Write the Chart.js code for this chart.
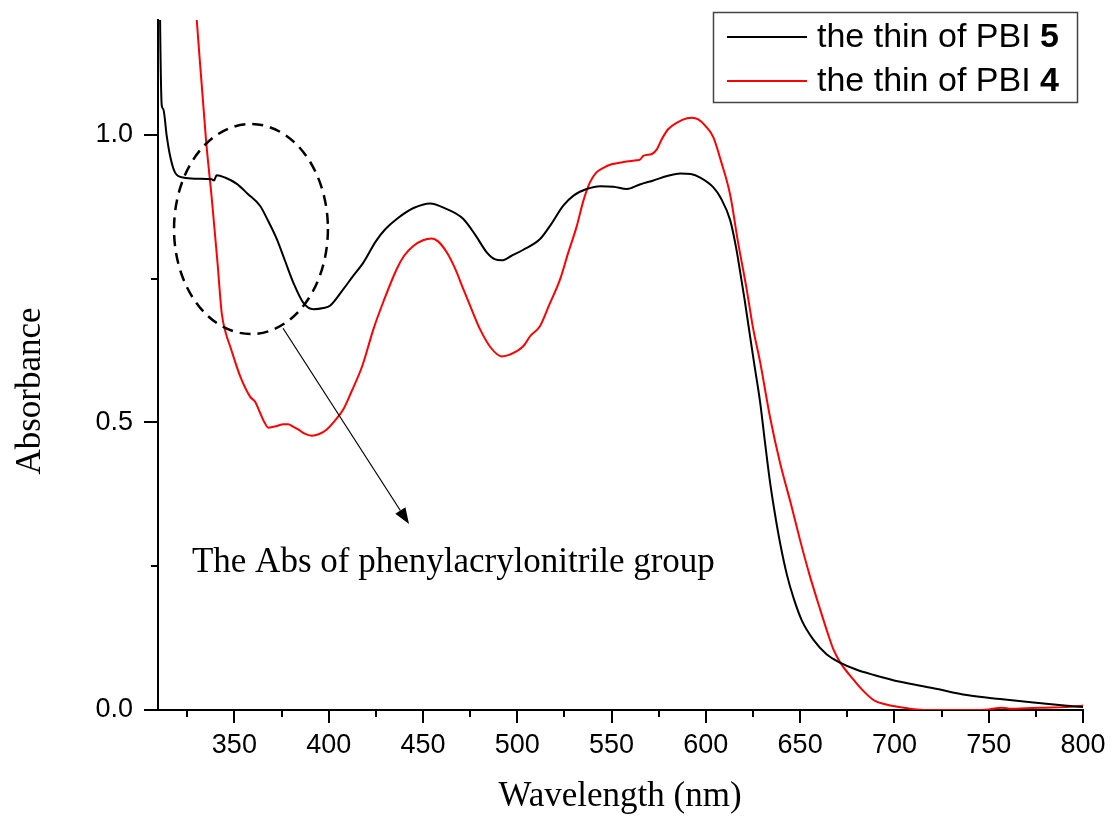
<!DOCTYPE html>
<html><head><meta charset="utf-8">
<script src="https://cdn.jsdelivr.net/npm/chart.js@4.4.1/dist/chart.umd.min.js"></script>
<style>html,body{margin:0;padding:0;background:#fff;overflow:hidden}</style>
</head><body>
<canvas id="c" width="1113" height="823"></canvas>
<script>
// ---- data ----
const wavelengthPBI5 = [309.6,310.6,311.5,312.3,314.1,315.9,318.5,322.9,330,337.9,339.2,340.6,345,351.3,357,363.6,368,372.5,377,381.3,386.6,391.9,397.2,400.7,407.8,413,418.4,425,430,436.1,445,453.8,462,471.4,478,483.8,488,491.8,497,503,512.1,518,524.4,530,536.8,544,551,558.1,565,572.2,580,586.4,592,597,604,608,612.9,616,618.2,620.5,623.5,626,628.8,631.5,634.1,636.7,639.4,643,646.5,651,657.1,664,671.4,680,689.1,703.1,720.7,738.4,756,773.7,790,800];
const absPBI5 = [1.60,1.20,1.051,1.045,0.999,0.964,0.935,0.926,0.924,0.923,0.921,0.930,0.926,0.915,0.898,0.877,0.850,0.819,0.780,0.743,0.708,0.697,0.699,0.703,0.732,0.755,0.778,0.815,0.836,0.854,0.873,0.881,0.872,0.854,0.825,0.796,0.784,0.782,0.790,0.800,0.819,0.845,0.877,0.895,0.906,0.911,0.910,0.906,0.914,0.921,0.929,0.933,0.932,0.926,0.909,0.890,0.852,0.805,0.762,0.715,0.649,0.595,0.535,0.462,0.395,0.340,0.290,0.235,0.195,0.155,0.122,0.097,0.082,0.070,0.061,0.049,0.038,0.026,0.019,0.013,0.008,0.005];

const wavelengthPBI4 = [326,330,335,338,341,343.3,345.5,347.7,353,358.3,361,363.6,366,368,370,372.5,376,378.6,381,383.9,387,391,395,399,403,407.8,412,418,423.7,429,436.1,440,444.9,450,454.7,458,462.6,467,471.4,476,480.3,486,491.8,496,503.3,506.8,512.1,517,522.7,527,531.6,535,538.6,542,545.7,550,556.3,563.4,565,567,571.4,574,576.7,580,585,590,592.6,596,600,604,608,612.9,617,621.8,625,628.8,634,639.4,645,650,655,660.6,665,667.7,671.4,678.5,683,689.1,695,703.1,711.9,720,740,750,757,762,770,780,790,798.5,800];
const absPBI4 = [1.37,1.202,0.99,0.89,0.78,0.69,0.655,0.633,0.581,0.545,0.536,0.517,0.500,0.491,0.492,0.494,0.497,0.497,0.493,0.488,0.481,0.477,0.480,0.488,0.502,0.523,0.553,0.600,0.662,0.710,0.767,0.790,0.807,0.817,0.820,0.815,0.796,0.768,0.732,0.695,0.662,0.630,0.615,0.618,0.633,0.650,0.668,0.705,0.749,0.795,0.842,0.885,0.918,0.935,0.943,0.949,0.953,0.956,0.957,0.964,0.967,0.975,0.993,1.010,1.022,1.029,1.030,1.027,1.015,0.996,0.955,0.896,0.815,0.729,0.665,0.605,0.510,0.429,0.360,0.295,0.235,0.175,0.130,0.105,0.082,0.052,0.035,0.017,0.010,0.005,0.001,0.000,0.000,0.001,0.004,0.002,0.003,0.004,0.005,0.007,0.008];

const seriesNames = ['the thin of PBI ', 'the thin of PBI '];
const seriesNumbers = ['5', '4'];
const seriesColors = ['#000000', '#ff0000'];

const xMajorTicks = [350,400,450,500,550,600,650,700,750,800];
const xMinorTicks = [325,375,425,475,525,575,625,675,725,775];
const yMajorTicks = [0, 0.5, 1.0];
const yMinorTicks = [0.25, 0.75];
const xRange = [309.5, 800];
const yRange = [0, 1.2];

const xTitle = 'Wavelength (nm)';
const yTitle = 'Absorbance';
const noteText = 'The Abs of phenylacrylonitrile group';
// annotation geometry in data units
const ellipseCenter = [358.8, 0.8365];
const ellipseRadii = [40.8, 0.1826];
const arrowFrom = [375.8, 0.664];
const arrowTo = [442.6, 0.3235];
const notePos = [327.5, 0.24];

const SANS = '"Liberation Sans", Arial, sans-serif';
const SERIF = '"Liberation Serif", "Times New Roman", serif';

function pts(xs, ys){ return xs.map((x,i)=>({x:x, y:ys[i]})); }
function noPad(s){ s.paddingLeft = 0; s.paddingRight = 0; s.paddingTop = 0; s.paddingBottom = 0; }

const decor = {
  id: 'decor',
  afterDraw(chart){
    const ctx = chart.ctx, xs = chart.scales.x, ys = chart.scales.y, ca = chart.chartArea;
    ctx.save();
    // ticks
    ctx.strokeStyle = '#000'; ctx.lineWidth = 2; ctx.lineCap = 'butt';
    const xt = (v,len)=>{ const px = Math.round(xs.getPixelForValue(v)); ctx.beginPath(); ctx.moveTo(px, ca.bottom); ctx.lineTo(px, ca.bottom+len); ctx.stroke(); };
    const yt = (v,len)=>{ const py = Math.round(ys.getPixelForValue(v)); ctx.beginPath(); ctx.moveTo(ca.left, py); ctx.lineTo(ca.left-len, py); ctx.stroke(); };
    xMajorTicks.forEach(v=>xt(v,13)); xMinorTicks.forEach(v=>xt(v,7));
    yMajorTicks.forEach(v=>yt(v,14)); yMinorTicks.forEach(v=>yt(v,7));

    // ellipse
    const cx = xs.getPixelForValue(ellipseCenter[0]), cy = ys.getPixelForValue(ellipseCenter[1]);
    const rx = xs.getPixelForValue(ellipseCenter[0]+ellipseRadii[0]) - cx;
    const ry = cy - ys.getPixelForValue(ellipseCenter[1]+ellipseRadii[1]);
    ctx.setLineDash([11,7]); ctx.lineWidth = 2.5;
    ctx.beginPath(); ctx.ellipse(cx, cy, rx, ry, 0, 0, Math.PI*2); ctx.stroke();
    ctx.setLineDash([]);

    // arrow
    const ax0 = xs.getPixelForValue(arrowFrom[0]), ay0 = ys.getPixelForValue(arrowFrom[1]);
    const ax1 = xs.getPixelForValue(arrowTo[0]), ay1 = ys.getPixelForValue(arrowTo[1]);
    const ang = Math.atan2(ay1-ay0, ax1-ax0), hl = 16, hw = 6;
    ctx.lineWidth = 1.2;
    ctx.beginPath(); ctx.moveTo(ax0, ay0); ctx.lineTo(ax1 - hl*Math.cos(ang), ay1 - hl*Math.sin(ang)); ctx.stroke();
    ctx.fillStyle = '#000';
    ctx.beginPath();
    ctx.moveTo(ax1, ay1);
    ctx.lineTo(ax1 - hl*Math.cos(ang) + hw*Math.sin(ang), ay1 - hl*Math.sin(ang) - hw*Math.cos(ang));
    ctx.lineTo(ax1 - hl*Math.cos(ang) - hw*Math.sin(ang), ay1 - hl*Math.sin(ang) + hw*Math.cos(ang));
    ctx.closePath(); ctx.fill();

    // note text
    ctx.font = '35px ' + SERIF; ctx.textAlign = 'left'; ctx.textBaseline = 'alphabetic';
    ctx.fillText(noteText, xs.getPixelForValue(notePos[0]), ys.getPixelForValue(notePos[1]));

    // axis titles
    ctx.textAlign = 'center'; ctx.textBaseline = 'middle';
    ctx.fillText(xTitle, 620, 797);
    ctx.save(); ctx.translate(31, 391); ctx.rotate(-Math.PI/2); ctx.fillText(yTitle, 0, 0); ctx.restore();

    // legend
    ctx.strokeStyle = '#444'; ctx.lineWidth = 1.5;
    ctx.strokeRect(713.5, 12.5, 364, 90);
    const rows = [37, 81];
    rows.forEach((ry2, i)=>{
      ctx.strokeStyle = seriesColors[i]; ctx.lineWidth = 2;
      ctx.beginPath(); ctx.moveTo(727, ry2); ctx.lineTo(807, ry2); ctx.stroke();
      ctx.fillStyle = '#000'; ctx.textAlign = 'left'; ctx.textBaseline = 'middle';
      ctx.font = '34px ' + SANS;
      ctx.fillText(seriesNames[i], 817, ry2 + 1);
      const w = ctx.measureText(seriesNames[i]).width;
      ctx.font = 'bold 34px ' + SANS;
      ctx.fillText(seriesNumbers[i], 817 + w, ry2 + 1);
    });
    ctx.restore();
  }
};

new Chart(document.getElementById('c'), {
  type: 'line',
  data: {
    datasets: [
      { label: seriesNames[0] + seriesNumbers[0], data: pts(wavelengthPBI5, absPBI5), borderColor: seriesColors[0], borderWidth: 2, pointRadius: 0, cubicInterpolationMode: 'monotone', fill: false },
      { label: seriesNames[1] + seriesNumbers[1], data: pts(wavelengthPBI4, absPBI4), borderColor: seriesColors[1], borderWidth: 2, pointRadius: 0, cubicInterpolationMode: 'monotone', fill: false }
    ]
  },
  options: {
    responsive: false, animation: false, devicePixelRatio: 1,
    layout: { padding: { left: 0, right: 30, top: 20, bottom: 0 } },
    plugins: { legend: { display: false }, tooltip: { enabled: false } },
    scales: {
      x: {
        type: 'linear', min: xRange[0], max: xRange[1],
        afterBuildTicks: s => { s.ticks = xMajorTicks.map(v=>({value:v})); },
        afterFit: s => { s.height = 113; noPad(s); },
        grid: { display: false, drawTicks: false },
        border: { display: true, color: '#000', width: 2 },
        ticks: { color: '#000', font: { family: SANS, size: 27 }, padding: 19, maxRotation: 0, autoSkip: false, callback: v => String(v) }
      },
      y: {
        type: 'linear', min: yRange[0], max: yRange[1],
        afterBuildTicks: s => { s.ticks = yMajorTicks.map(v=>({value:v})); },
        afterFit: s => { s.width = 158; noPad(s); },
        grid: { display: false, drawTicks: false },
        border: { display: true, color: '#000', width: 2 },
        ticks: { color: '#000', font: { family: SANS, size: 27 }, padding: 25, autoSkip: false, callback: v => Number(v).toFixed(1) }
      }
    }
  },
  plugins: [decor]
});
</script>
</body></html>
